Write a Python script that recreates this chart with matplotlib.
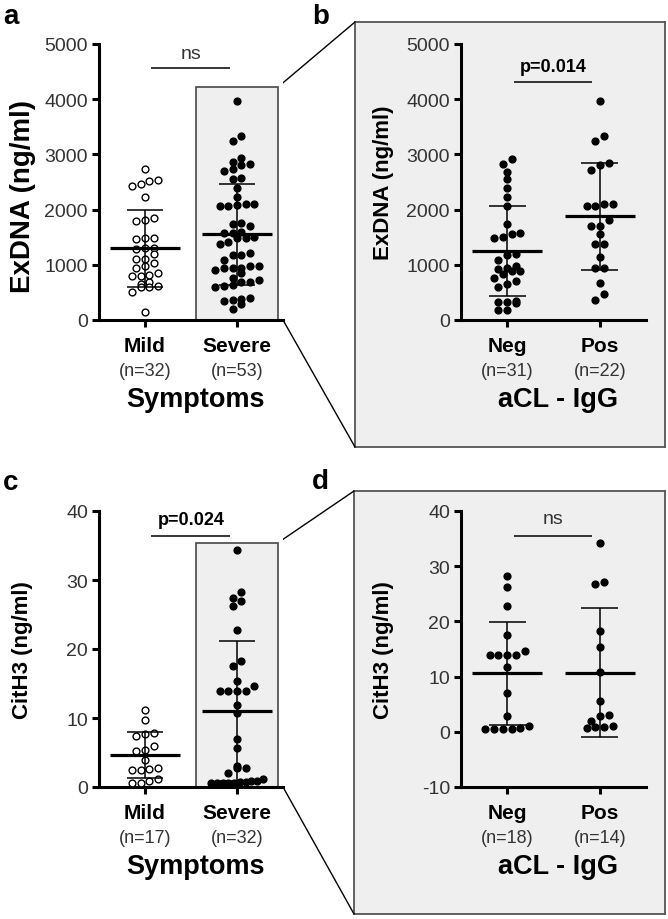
import numpy as np
import matplotlib
matplotlib.use("Agg")
import matplotlib.pyplot as plt
from matplotlib.patches import Rectangle, ConnectionPatch

plt.rcParams['font.family'] = ['Liberation Sans', 'DejaVu Sans']

# ---- data ----
exdna_mild = [2740, 2530, 2470, 2420, 2510, 2220, 1800, 1810, 1850, 1490, 1460, 1490,
              1300, 1290, 1300, 1110, 1200, 1110, 950, 1030, 970, 800, 690, 660, 850,
              800, 820, 600, 590, 610, 500, 150]
exdna_severe = [3970, 3340, 3250, 2870, 2810, 2930, 2830, 2700, 2740, 2570, 2550, 2400,
                2220, 2100, 2070, 2070, 2080, 2100, 1750, 1740, 1710, 1600, 1580, 1580,
                1490, 1500, 1480, 1370, 1420, 1210, 1170, 1180, 1080, 970, 940, 940, 950,
                970, 900, 850, 760, 730, 690, 680, 620, 600, 640, 380, 390, 370, 340, 290, 200]
exdna_neg = [2920, 2830, 2690, 2550, 2400, 2220, 2060, 1740, 1560, 1490, 1500, 1570, 1170,
             1190, 1080, 970, 920, 950, 890, 880, 830, 760, 700, 650, 600, 330, 300, 350,
             330, 190, 190]
exdna_pos = [3970, 3340, 3250, 2850, 2800, 2720, 2110, 2070, 2070, 2110, 1810, 1700, 1700,
             1550, 1380, 1370, 1150, 950, 940, 670, 480, 370]
cith3_mild = [11.1, 9.7, 7.8, 7.4, 7.7, 6.0, 5.3, 5.2, 3.9, 2.8, 2.5, 2.5, 2.6, 0.8, 0.6,
              0.6, 1.2]
cith3_severe = [34.3, 28.2, 26.9, 27.4, 26.2, 22.8, 18.2, 17.6, 15.3, 13.9, 13.9, 13.9, 13.9,
                14.6, 11.9, 10.7, 7.0, 5.6, 3.1, 2.7, 2.7, 2.1, 1.1, 0.8, 0.7, 0.6, 0.6,
                0.6, 0.6, 0.6, 0.7, 0.9]
cith3_neg = [28.3, 26.2, 22.8, 17.6, 14.6, 13.9, 13.9, 13.9, 13.9, 11.8, 7.0, 2.8, 0.6, 0.5,
             0.5, 0.5, 0.5, 1.0]
cith3_pos = [34.2, 26.8, 27.2, 18.2, 15.3, 10.8, 5.5, 3.0, 2.9, 2.0, 0.8, 0.6, 0.8, 1.0]

# mean and SD lines as drawn
means = {'a': [1300, 1550], 'b': [1250, 1880], 'c': [4.6, 11.0], 'd': [10.6, 10.7]}
sds = {'a': [700, 920], 'b': [820, 970], 'c': [3.3, 10.2], 'd': [9.3, 11.7]}

sym_labels = ['Mild', 'Severe']
acl_labels = ['Neg', 'Pos']
n_a = ['(n=32)', '(n=53)']
n_b = ['(n=31)', '(n=22)']
n_c = ['(n=17)', '(n=32)']
n_d = ['(n=18)', '(n=14)']

GRAY = '#efefef'
TXT = '#333333'


def swarm_x(values, center, row_h, dx=0.095, max_half=0.28):
    v = np.asarray(values, float)
    order = np.argsort(v)
    xs = np.empty_like(v)
    rows, cur = [], [order[0]]
    for idx in order[1:]:
        if v[idx] - v[cur[0]] < row_h:
            cur.append(idx)
        else:
            rows.append(cur)
            cur = [idx]
    rows.append(cur)
    for r in rows:
        n = len(r)
        step = dx if n < 2 else min(dx, 2 * max_half / (n - 1))
        offs = (np.arange(n) - (n - 1) / 2) * step
        for k, idx in enumerate(r):
            xs[idx] = center + offs[k]
    return xs


def style_axes(ax, ylim, yticks, ylabel, ysize=16):
    ax.set_xlim(-0.5, 1.5)
    ax.set_ylim(*ylim)
    ax.set_yticks(yticks)
    ax.set_yticklabels([str(t) for t in yticks], fontsize=14, color=TXT)
    ax.set_xticks([0, 1])
    ax.set_xticklabels([])
    for s in ['top', 'right']:
        ax.spines[s].set_visible(False)
    for s in ['left', 'bottom']:
        ax.spines[s].set_linewidth(2.2)
    ax.tick_params(axis='both', length=5, width=2.2, pad=3)
    ax.set_ylabel(ylabel, fontsize=ysize, fontweight='bold')
    ax.yaxis.set_label_coords(-0.36, 0.5)


def groups(ax, data, key, open_first, row_h):
    for i, vals in enumerate(data):
        xs = swarm_x(vals, i, row_h)
        if open_first and i == 0:
            ax.scatter(xs, vals, s=24, facecolor='white', edgecolor='black',
                       linewidth=1.0, zorder=3, clip_on=False)
        else:
            ax.scatter(xs, vals, s=24, color='black', zorder=3, clip_on=False)
        m, sd = means[key][i], sds[key][i]
        ax.hlines(m, i - 0.38, i + 0.38, color='black', lw=2.3, zorder=4)
        ax.vlines(i, m - sd, m + sd, color='black', lw=1.1, zorder=4)
        ax.hlines([m - sd, m + sd], i - 0.2, i + 0.2, color='black', lw=1.1, zorder=4)


def xlabels(ax, cats, ns, title):
    tr = ax.get_xaxis_transform()
    for i, (c, n) in enumerate(zip(cats, ns)):
        ax.annotate(c, (i, 0), xycoords=tr, xytext=(0, -18.7), textcoords='offset points',
                    ha='center', va='center', fontsize=15, fontweight='bold',
                    annotation_clip=False)
        ax.annotate(n, (i, 0), xycoords=tr, xytext=(0, -36.5), textcoords='offset points',
                    ha='center', va='center', fontsize=13, color=TXT,
                    annotation_clip=False)
    ax.annotate(title, (0.55, 0), xycoords=tr, xytext=(0, -57), textcoords='offset points',
                ha='center', va='center', fontsize=19.5, fontweight='bold',
                annotation_clip=False)


def bracket(ax, y_line, y_text, label, bold):
    ax.hlines(y_line, 0.07, 0.92, color='black', lw=1.1, clip_on=False)
    ax.text(0.5, y_text, label, ha='center', va='center',
            fontsize=13 if bold else 14, fontweight='bold' if bold else 'normal',
            color='black' if bold else TXT, clip_on=False)


W, H = 668, 920
fig = plt.figure(figsize=(W / 100, H / 100), dpi=100)


def fa(x0, y0, x1, y1):
    return [x0 / W, 1 - y1 / H, (x1 - x0) / W, (y1 - y0) / H]


box_b = fig.add_axes(fa(355, 23, 665, 448), zorder=0)
box_d = fig.add_axes(fa(354, 492, 665, 915), zorder=0)
for bx in (box_b, box_d):
    bx.set_facecolor(GRAY)
    bx.set_xticks([])
    bx.set_yticks([])
    for s in bx.spines.values():
        s.set_color('#555555')
        s.set_linewidth(1.3)

ax_a = fig.add_axes(fa(99, 45, 283, 321), zorder=1)
ax_b = fig.add_axes(fa(461, 45, 646, 321), zorder=1)
ax_c = fig.add_axes(fa(99, 512, 283, 788), zorder=1)
ax_d = fig.add_axes(fa(461, 512, 646, 788), zorder=1)
for ax in (ax_b, ax_d):
    ax.set_facecolor('none')

style_axes(ax_a, (0, 5000), [0, 1000, 2000, 3000, 4000, 5000], 'ExDNA (ng/ml)', ysize=20)
style_axes(ax_b, (0, 5000), [0, 1000, 2000, 3000, 4000, 5000], 'ExDNA (ng/ml)')
style_axes(ax_c, (0, 40), [0, 10, 20, 30, 40], 'CitH3 (ng/ml)')
style_axes(ax_d, (-10, 40), [-10, 0, 10, 20, 30, 40], 'CitH3 (ng/ml)')
ax_a.yaxis.set_label_coords(-0.34, 0.45)

# highlighted "severe" region in a and c
rect_a = Rectangle((0.554, 0), 0.892, 4221, facecolor=GRAY, edgecolor='#555555',
                   lw=1.3, zorder=1)
ax_a.add_patch(rect_a)
rect_c = Rectangle((0.554, 0), 0.892, 35.4, facecolor=GRAY, edgecolor='#555555',
                   lw=1.3, zorder=1)
ax_c.add_patch(rect_c)

groups(ax_a, [exdna_mild, exdna_severe], 'a', True, 140)
groups(ax_b, [exdna_neg, exdna_pos], 'b', False, 140)
groups(ax_c, [cith3_mild, cith3_severe], 'c', True, 1.0)
groups(ax_d, [cith3_neg, cith3_pos], 'd', False, 1.3)

xlabels(ax_a, sym_labels, n_a, 'Symptoms')
xlabels(ax_b, acl_labels, n_b, 'aCL - IgG')
xlabels(ax_c, sym_labels, n_c, 'Symptoms')
xlabels(ax_d, acl_labels, n_d, 'aCL - IgG')

bracket(ax_a, 4565, 4830, 'ns', False)
bracket(ax_b, 4310, 4600, 'p=0.014', True)
bracket(ax_c, 36.4, 38.7, 'p=0.024', True)
bracket(ax_d, 35.5, 38.6, 'ns', False)

# zoom connector lines
for src, rect, box in ((ax_a, rect_a, box_b), (ax_c, rect_c, box_d)):
    x1 = rect.get_x() + rect.get_width()
    top = rect.get_y() + rect.get_height()
    cp1 = ConnectionPatch(xyA=(x1, top), coordsA=src.transData, xyB=(0, 1),
                          coordsB=box.transAxes, color='black', lw=1.0)
    cp2 = ConnectionPatch(xyA=(1, 0), coordsA=src.transAxes, xyB=(0, 0),
                          coordsB=box.transAxes, color='black', lw=1.0)
    fig.add_artist(cp1)
    fig.add_artist(cp2)

for lab, x, y in (('a', 3, 17), ('b', 312, 17), ('c', 3, 483), ('d', 312, 482)):
    fig.text(x / W, 1 - y / H, lab, fontsize=20, fontweight='bold', ha='left', va='center')

fig.savefig('out.png', dpi=100)
